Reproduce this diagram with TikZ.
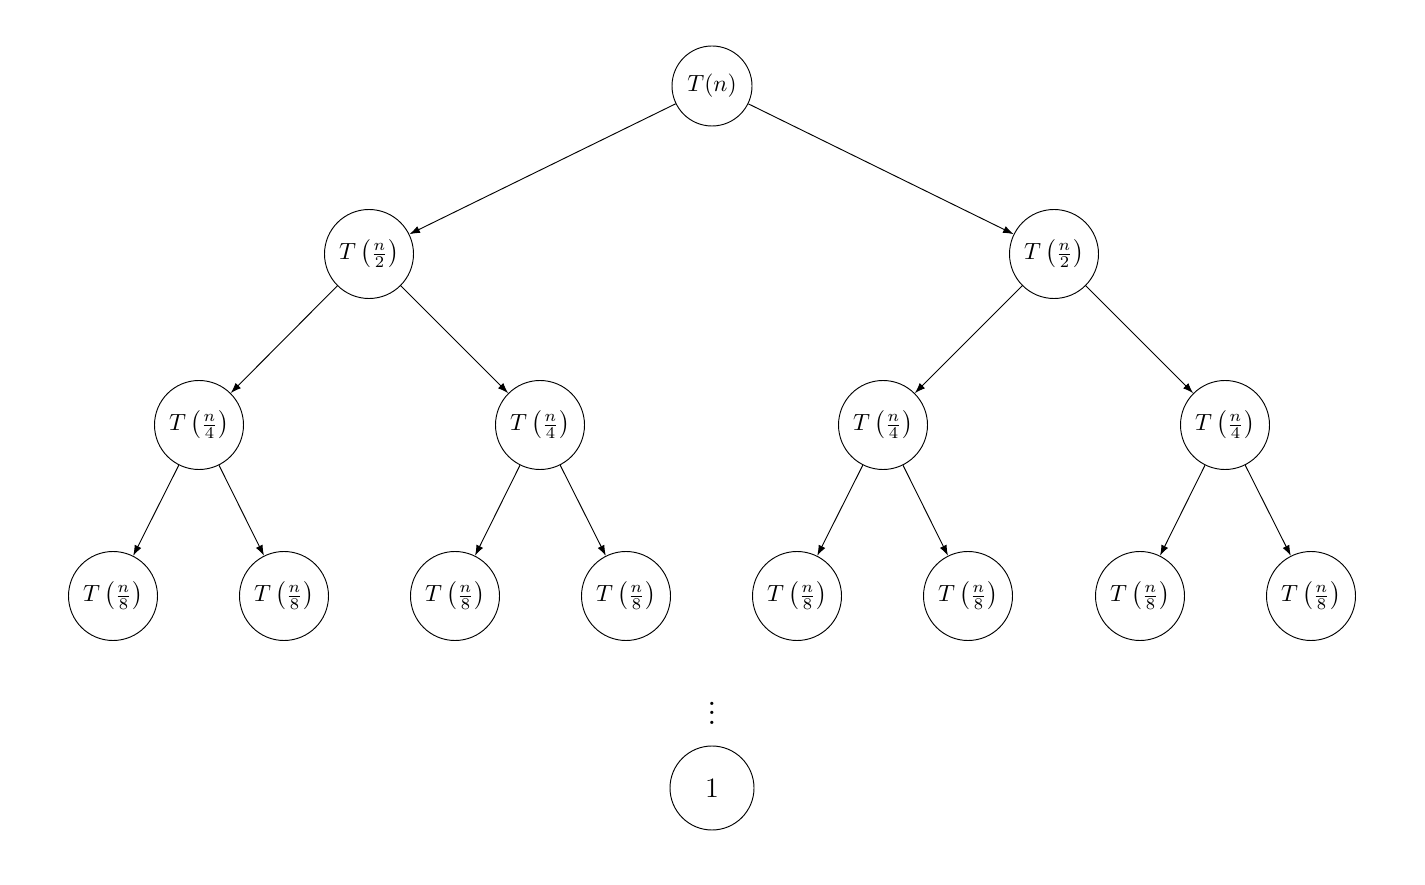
\documentclass[tikz,border=0pt]{standalone}
\usetikzlibrary{arrows.meta}
\begin{document}
\begin{tikzpicture}[x=0.015cm,y=-0.015cm,
  treenode/.style={draw,circle,inner sep=0pt,minimum size=1.335cm,font=\normalsize},
  rootnode/.style={treenode,minimum size=1.2cm},
  leafnode/.style={treenode,minimum size=1.26cm,font=\large},
  edge/.style={-{Latex[length=4.5pt,width=3.2pt]},line width=0.4pt}]
  \useasboundingbox (0,0) rectangle (1425,885);
  % root
  \node[rootnode] (r) at (712,86) {$T(n)$};
  % level 1
  \node[treenode] (a) at (369,254) {$T\left(\frac{n}{2}\right)$};
  \node[treenode] (b) at (1054,254) {$T\left(\frac{n}{2}\right)$};
  % level 2
  \node[treenode] (aa) at (199,425) {$T\left(\frac{n}{4}\right)$};
  \node[treenode] (ab) at (540,425) {$T\left(\frac{n}{4}\right)$};
  \node[treenode] (ba) at (883,425) {$T\left(\frac{n}{4}\right)$};
  \node[treenode] (bb) at (1225,425) {$T\left(\frac{n}{4}\right)$};
  % level 3
  \node[treenode] (aaa) at (113,596) {$T\left(\frac{n}{8}\right)$};
  \node[treenode] (aab) at (284,596) {$T\left(\frac{n}{8}\right)$};
  \node[treenode] (aba) at (455,596) {$T\left(\frac{n}{8}\right)$};
  \node[treenode] (abb) at (626,596) {$T\left(\frac{n}{8}\right)$};
  \node[treenode] (baa) at (797,596) {$T\left(\frac{n}{8}\right)$};
  \node[treenode] (bab) at (968,596) {$T\left(\frac{n}{8}\right)$};
  \node[treenode] (bba) at (1140,596) {$T\left(\frac{n}{8}\right)$};
  \node[treenode] (bbb) at (1311,596) {$T\left(\frac{n}{8}\right)$};
  % continuation down to the base case
  \node[inner sep=0pt,font=\Large] (dots) at (712,706) {$\vdots$};
  \node[leafnode] (one) at (712,788) {$1$};
  % edges
  \draw[edge] (r) -- (a);
  \draw[edge] (r) -- (b);
  \draw[edge] (a) -- (aa);
  \draw[edge] (a) -- (ab);
  \draw[edge] (b) -- (ba);
  \draw[edge] (b) -- (bb);
  \draw[edge] (aa) -- (aaa);
  \draw[edge] (aa) -- (aab);
  \draw[edge] (ab) -- (aba);
  \draw[edge] (ab) -- (abb);
  \draw[edge] (ba) -- (baa);
  \draw[edge] (ba) -- (bab);
  \draw[edge] (bb) -- (bba);
  \draw[edge] (bb) -- (bbb);
\end{tikzpicture}
\end{document}
